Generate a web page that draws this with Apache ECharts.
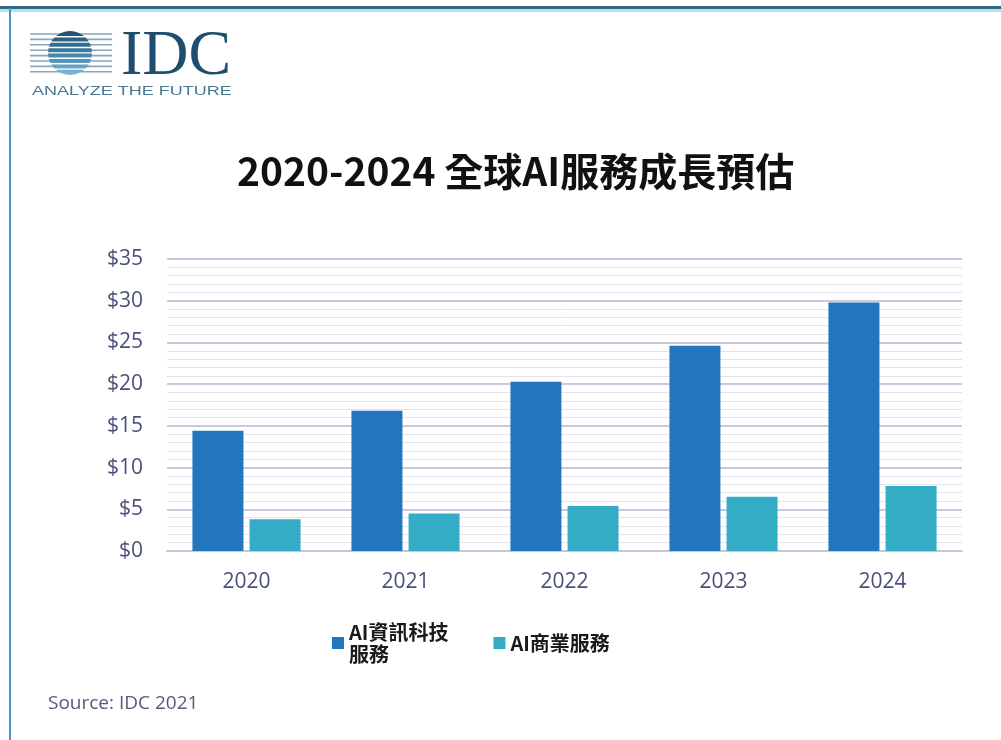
<!DOCTYPE html>
<html><head><meta charset="utf-8">
<script src="https://cdn.jsdelivr.net/npm/echarts@6/dist/echarts.min.js"></script>
<style>html,body{margin:0;padding:0;background:#fff}#c{width:1001px;height:740px}</style>
</head><body><div id="c"></div>
<script>
const categories = ['2020', '2021', '2022', '2023', '2024'];
const seriesNames = ['AI資訊科技服務', 'AI商業服務'];
const itServices = [14.4, 16.8, 20.3, 24.6, 29.8];
const businessServices = [3.8, 4.5, 5.4, 6.5, 7.8];
const yTickLabels = ['$0', '$5', '$10', '$15', '$20', '$25', '$30', '$35'];

const chart = echarts.init(document.getElementById('c'));
const axisColor = '#4b5078';
const stripes = [];
for (let i = 0; i < 8; i++) {
  stripes.push({ type: 'line', shape: { x1: 30, y1: 34 + i * 5.4, x2: 112, y2: 34 + i * 5.4 },
    style: { stroke: '#8aa6ba', lineWidth: 1.6 } });
}
const gaps = [];
for (let i = 0; i < 7; i++) {
  gaps.push({ type: 'line', shape: { x1: 44, y1: 36.7 + i * 5.4, x2: 96, y2: 36.7 + i * 5.4 },
    style: { stroke: '#ffffff', lineWidth: 1.4 } });
}
chart.setOption({
  backgroundColor: '#ffffff',
  animation: false,
  title: {
    text: '2020-2024 全球AI服務成長預估',
    left: 232, top: 147,
    textStyle: { fontFamily: 'Noto Sans CJK TC', fontSize: 39, fontWeight: 'bold', color: '#111' }
  },
  graphic: [
    { type: 'rect', shape: { x: 0, y: 6, width: 1001, height: 3 }, style: { fill: '#2d6e85' } },
    { type: 'rect', shape: { x: 0, y: 9, width: 1001, height: 3 }, style: { fill: '#b9e0ee' } },
    { type: 'rect', shape: { x: 9, y: 8, width: 2, height: 732 }, style: { fill: '#4b95c4' } },
    ...stripes,
    { type: 'circle', shape: { cx: 70, cy: 53, r: 22 },
      style: { fill: new echarts.graphic.LinearGradient(0, 0, 0, 1, [
        { offset: 0, color: '#1f4f6e' }, { offset: 0.5, color: '#3d7fa6' }, { offset: 1, color: '#7fbbd8' }]) } },
    ...gaps,
    { type: 'text', left: 121, top: 25,
      style: { text: 'IDC', font: '64px "Liberation Serif"', fill: '#1d4e6e' } },
    { type: 'text', x: 32, y: 86, scaleX: 1.5,
      style: { text: 'ANALYZE THE FUTURE', font: '12px "Liberation Sans"', fill: '#4a7890' } },
    { type: 'text', left: 48, top: 694,
      style: { text: 'Source: IDC 2021', font: '19px "Open Sans"', fill: '#555a78' } },
    { type: 'text', x: 57, y: 395, rotation: Math.PI / 2, originX: 57, originY: 395,
      style: { text: 'Billions', font: '20px "Open Sans"', fill: '#5b5ea6', align: 'center', verticalAlign: 'middle' } }
  ],
  legend: {
    left: 327, top: 605,
    itemWidth: 12, itemHeight: 12, itemGap: 45,
    icon: 'rect',
    formatter: n => n === seriesNames[0] ? 'AI資訊科技\n服務' : n,
    data: [
      { name: seriesNames[0], textStyle: { padding: [22, 0, 0, 0] } },
      { name: seriesNames[1] }
    ],
    textStyle: { fontFamily: 'Noto Sans CJK TC', fontSize: 20, fontWeight: 'bold', color: '#1a1a1a', lineHeight: 22 }
  },
  grid: { left: 167, right: 39, top: 259, bottom: 189 },
  xAxis: {
    type: 'category', data: categories,
    axisLine: { show: true, lineStyle: { color: '#c9c5dc', width: 2 } },
    axisTick: { show: false },
    axisLabel: { margin: 21, fontFamily: 'Open Sans', fontSize: 21, color: axisColor }
  },
  yAxis: {
    type: 'value', min: 0, max: 35, interval: 5,
    axisLine: { show: false }, axisTick: { show: false },
    axisLabel: { margin: 24, fontFamily: 'Open Sans', fontSize: 21, color: axisColor,
      formatter: v => yTickLabels[Math.round(v / 5)] },
    splitLine: { lineStyle: { color: '#cbc7de', width: 2 } },
    minorTick: { show: false, splitNumber: 5 },
    minorSplitLine: { show: true, lineStyle: { color: '#e3e3ec', width: 1 } }
  },
  series: [
    { name: seriesNames[0], type: 'bar', data: itServices, barWidth: 51, barGap: '12%',
      itemStyle: { color: '#2176bd' } },
    { name: seriesNames[1], type: 'bar', data: businessServices, barWidth: 51,
      itemStyle: { color: '#35acc6' } }
  ]
});
</script></body></html>
